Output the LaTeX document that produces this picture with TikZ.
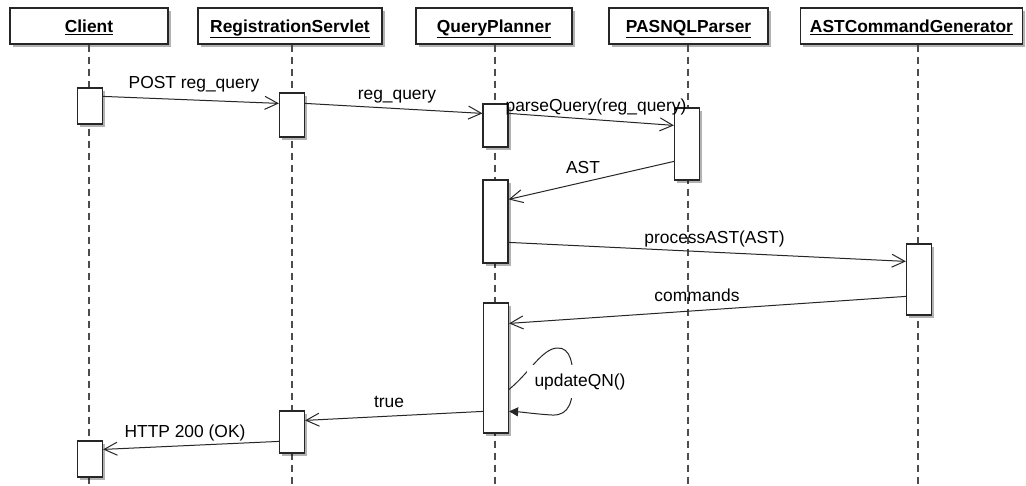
\documentclass[tikz,border=0pt]{standalone}
\usepackage{fontspec}
\setmainfont{Liberation Sans}
\usetikzlibrary{arrows.meta,shadows,calc}
\begin{document}
\begin{tikzpicture}[x=1pt,y=-1pt,
  every node/.style={font=\fontsize{17.4}{20}\selectfont},
  softshadow/.style={drop shadow={shadow xshift=2.5pt, shadow yshift=-3pt, fill=black, opacity=0.3}},
  hdr/.style={draw=black!85, line width=1.3pt, fill=white, minimum height=36pt,
    inner sep=0pt, text height=12.5pt, text depth=0pt,
    font=\fontsize{17.4}{20}\selectfont\bfseries, softshadow},
  act/.style={draw=black!85, line width=1.2pt, fill=white, minimum width=25pt,
    inner sep=0pt, softshadow},
  life/.style={draw=black!70, line width=1.1pt, dash pattern=on 7pt off 5pt},
  msg/.style={draw=black!85, line width=1pt,
    -{Straight Barb[length=13pt,width=13pt,line width=1pt]}},
  selfmsg/.style={draw=black!85, line width=1pt,
    -{Triangle[length=9pt,width=9pt]}},
  lbl/.style={anchor=base, inner sep=0pt},
]
\fill[white] (0,0) rectangle (1026,485);
\useasboundingbox (0,0) rectangle (1026,485);

% participants
\node[hdr, minimum width=158pt] (hC) at (89,26)    {\underline{Client}};
\node[hdr, minimum width=184pt] (hR) at (290,26)   {\underline{RegistrationServlet}};
\node[hdr, minimum width=156pt] (hQ) at (494,26)   {\underline{QueryPlanner}};
\node[hdr, minimum width=159pt] (hP) at (688.5,26) {\underline{PASNQLParser}};
\node[hdr, minimum width=222pt] (hA) at (911.5,26) {\underline{ASTCommandGenerator}};

% lifeline ends
\coordinate (eC) at (89,485);
\coordinate (eR) at (292,485);
\coordinate (eQ) at (495,485);
\coordinate (eP) at (688,485);
\coordinate (eA) at (918,485);

\draw[life] (hC.south -| eC) -- (eC);
\draw[life] (hR.south -| eR) -- (eR);
\draw[life] (hQ.south -| eQ) -- (eQ);
\draw[life] (hP.south -| eP) -- (eP);
\draw[life] (hA.south -| eA) -- (eA);

% activations
\node[act, minimum height=36pt]  (c1) at (90,106)     {};
\node[act, minimum height=36pt]  (c2) at (90,459)     {};
\node[act, minimum height=44pt]  (r1) at (292,115)    {};
\node[act, minimum height=42pt]  (r2) at (292,432)    {};
\node[act, minimum height=43pt]  (q1) at (495.5,125.5) {};
\node[act, minimum height=83pt]  (q2) at (495.5,221.5) {};
\node[act, minimum height=130pt] (q3) at (496,368)    {};
\node[act, minimum height=72pt]  (p1) at (687,144)    {};
\node[act, minimum height=71pt]  (a1) at (919,279.5)  {};

% messages
\draw[msg] ($(c1.north east)+(0,9)$)   -- ($(r1.north west)+(0,11)$);
\draw[msg] ($(r1.north east)+(0,11)$)  -- ($(q1.north west)+(0,10)$);
\draw[msg] ($(q1.north east)+(0,10)$)  -- ($(p1.north west)+(0,18)$);
\draw[msg] ($(p1.north west)+(0,54)$)  -- ($(q2.north east)+(0,20)$);
\draw[msg] ($(q2.north east)+(0,63)$)  -- ($(a1.north west)+(0,18)$);
\draw[msg] ($(a1.north west)+(0,53)$)  -- ($(q3.north east)+(0,21)$);
\draw[msg] ($(q3.north west)+(0,109)$) -- ($(r2.north east)+(0,10)$);
\draw[msg] ($(r2.north west)+(0,31)$)  -- ($(c2.north east)+(0,9)$);

% self call
\draw[selfmsg] ($(q3.north east)+(0,87)$)
  .. controls (530,372) and (542,349) .. (557,348)
  .. controls (571,347) and (573,365) .. (573,380)
  .. controls (573,400) and (570,416) .. (552,415)
  .. controls (535,414) and (522,412) .. ($(q3.north east)+(0,109)$);

% labels
\node[lbl] (l1) at (194,88)    {POST reg\_query};
\node[lbl] (l2) at (397,99)    {reg\_query};
\node[lbl] (l3) at (596,111)   {parseQuery(reg\_query)};
\node[lbl] (l4) at (583,173)   {AST};
\node[lbl] (l5) at (714.5,243) {processAST(AST)};
\node[lbl] (l6) at (697,301)   {commands};
\node[lbl, fill=white, inner sep=8pt] (l7) at (580,386) {updateQN()};
\node[lbl] (l8) at (389,407)   {true};
\node[lbl] (l9) at (185,437)   {HTTP 200 (OK)};
\end{tikzpicture}
\end{document}
